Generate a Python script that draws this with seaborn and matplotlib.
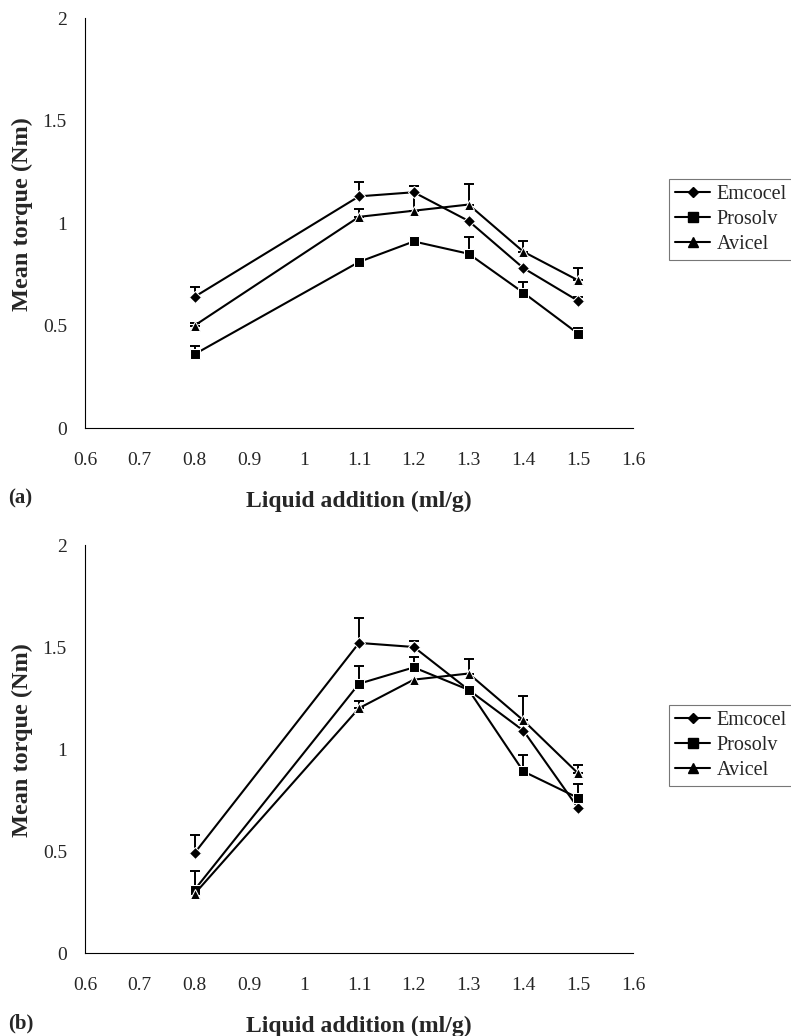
import numpy as np
import pandas as pd
import matplotlib.pyplot as plt
import seaborn as sns

# ===== DATA =====
liquid = [0.8, 1.1, 1.2, 1.3, 1.4, 1.5]
materials = ["Emcocel", "Prosolv", "Avicel"]

# panel (a)
a_emcocel = [0.64, 1.13, 1.15, 1.01, 0.78, 0.62]
a_emcocel_err = [0.05, 0.07, 0.03, 0.0, 0.0, 0.02]
a_prosolv = [0.36, 0.81, 0.91, 0.85, 0.66, 0.46]
a_prosolv_err = [0.04, 0.0, 0.0, 0.08, 0.05, 0.03]
a_avicel = [0.50, 1.03, 1.06, 1.09, 0.86, 0.72]
a_avicel_err = [0.01, 0.04, 0.12, 0.10, 0.05, 0.06]

# panel (b)
b_emcocel = [0.49, 1.52, 1.50, 1.29, 1.09, 0.71]
b_emcocel_err = [0.09, 0.12, 0.03, 0.0, 0.0, 0.0]
b_prosolv = [0.31, 1.32, 1.40, 1.29, 0.89, 0.76]
b_prosolv_err = [0.09, 0.085, 0.05, 0.0, 0.08, 0.07]
b_avicel = [0.29, 1.20, 1.34, 1.37, 1.14, 0.88]
b_avicel_err = [0.0, 0.035, 0.0, 0.07, 0.12, 0.04]

x_ticks = [0.6, 0.7, 0.8, 0.9, 1.0, 1.1, 1.2, 1.3, 1.4, 1.5, 1.6]
x_tick_labels = ["0.6", "0.7", "0.8", "0.9", "1", "1.1", "1.2", "1.3", "1.4", "1.5", "1.6"]
y_ticks = [0, 0.5, 1.0, 1.5, 2.0]
y_tick_labels = ["0", "0.5", "1", "1.5", "2"]


def make_frame(vals, errs):
    rows = []
    for m, v, e in zip(materials, vals, errs):
        for x, yv, ev in zip(liquid, v, e):
            rows.append({"Liquid": x, "Torque": yv, "err": ev, "Material": m})
    return pd.DataFrame(rows)


df_a = make_frame([a_emcocel, a_prosolv, a_avicel], [a_emcocel_err, a_prosolv_err, a_avicel_err])
df_b = make_frame([b_emcocel, b_prosolv, b_avicel], [b_emcocel_err, b_prosolv_err, b_avicel_err])

sns.set_style("white")
plt.rcParams["font.family"] = ["Liberation Serif", "DejaVu Serif"]

fig = plt.figure(figsize=(7.91, 10.36), dpi=100)
W, H = 791, 1036
ax_a = fig.add_axes([85 / W, 1 - 428 / H, 548 / W, 410 / H])
ax_b = fig.add_axes([85 / W, 1 - 953 / H, 548 / W, 408 / H])

marker_map = {"Emcocel": "D", "Prosolv": "s", "Avicel": "^"}
size_map = {"Emcocel": 6, "Prosolv": 7.5, "Avicel": 7.5}


def draw_panel(ax, df, legend_top):
    # error bars (upper only, skip the ones too small to see)
    for m in materials:
        sub = df[(df["Material"] == m) & (df["err"] > 0)]
        ax.errorbar(sub["Liquid"], sub["Torque"],
                    yerr=[np.zeros(len(sub)), sub["err"]],
                    fmt="none", ecolor="black", elinewidth=1.4,
                    capsize=3.5, capthick=1.4)
    sns.lineplot(data=df, x="Liquid", y="Torque", style="Material",
                 markers=marker_map, dashes=False, color="black",
                 linewidth=1.5, markersize=7, ax=ax, legend=False)
    for line, m in zip(ax.lines[-3:], materials):
        line.set_markersize(size_map[m])
    ax.set_xlim(0.6, 1.6)
    ax.set_ylim(0, 2)
    ax.set_xticks(x_ticks)
    ax.set_xticklabels(x_tick_labels, fontsize=14)
    ax.set_yticks(y_ticks)
    ax.set_yticklabels(y_tick_labels, fontsize=14)
    ax.tick_params(axis="both", direction="out", length=5, width=0.8,
                   color="black")
    ax.tick_params(axis="x", pad=12)
    ax.tick_params(axis="y", pad=8)
    for s in ["top", "right"]:
        ax.spines[s].set_visible(False)
    for s in ["left", "bottom"]:
        ax.spines[s].set_color("black")
        ax.spines[s].set_linewidth(0.8)
    ax.set_xlabel("Liquid addition (ml/g)", fontsize=17, fontweight="bold", labelpad=16)
    ax.set_ylabel("Mean torque (Nm)", fontsize=17.5, fontweight="bold")
    ax.yaxis.set_label_coords(-0.095, 0.523)

    handles = [plt.Line2D([], [], color="black", linewidth=1.5,
                          marker=marker_map[m], markersize=size_map[m] - 0.5)
               for m in materials]
    leg = fig.legend(handles, materials, loc="upper left",
                     bbox_to_anchor=(669 / W, 1 - legend_top / H),
                     frameon=True, fancybox=False, fontsize=14.5,
                     handlelength=1.75, handletextpad=0.3,
                     borderpad=0.3, labelspacing=0.3, borderaxespad=0)
    leg.get_frame().set_edgecolor("#555555")
    leg.get_frame().set_linewidth(0.8)


draw_panel(ax_a, df_a, 179)
draw_panel(ax_b, df_b, 705)

fig.text(8 / W, 1 - 498 / H, "(a)", fontsize=15, fontweight="bold", va="center")
fig.text(8 / W, 1 - 1023 / H, "(b)", fontsize=15, fontweight="bold", va="center")

fig.savefig("out.png", dpi=100)
